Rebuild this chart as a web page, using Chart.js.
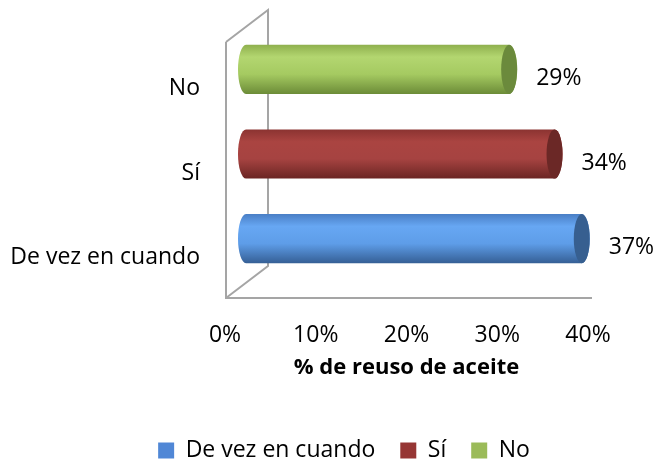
<!DOCTYPE html>
<html>
<head>
<meta charset="utf-8">
<script src="https://cdn.jsdelivr.net/npm/chart.js@4"></script>
<style>
  body { margin: 0; background: #fff; }
  #marco { width: 657px; height: 460px; overflow: hidden; }
  #lienzo { position: relative; width: 657px; height: 472px; }
</style>
</head>
<body>
<div id="marco"><div id="lienzo"><canvas id="graficoReuso"></canvas></div></div>
<script>
const categorias = ["De vez en cuando", "Sí", "No"];
const porcentajes = [37, 34, 29];
const marcasEje = [0, 10, 20, 30, 40];
const tituloEje = "% de reuso de aceite";

const coloresLeyenda = ["#5087d6", "#963634", "#9bbb59"];
// degradado de cada cilindro: arriba, brillo, centro, abajo, tapa
const coloresCilindro = [
  ["#4a7fc6", "#67a7f3", "#5e9de8", "#355f95", "#375f90"],
  ["#8b3331", "#aa4441", "#a64341", "#6b2523", "#6b2826"],
  ["#8fb04e", "#b3d670", "#a5ca61", "#6c8c38", "#6b8a3c"],
];

// paredes 3D y cilindros dibujados a partir de las barras de Chart.js
const pluginCilindros = {
  id: "cilindros",
  afterLayout(chart) {
    // la leyenda del original queda centrada un poco a la derecha
    chart.legend.left = 100;
    chart.legend.right = chart.chartArea.right;
  },
  beforeDatasetsDraw(chart) {
    const { ctx, chartArea: ca } = chart;
    const dx = 42, dy = -32;
    ctx.save();
    ctx.strokeStyle = "#a5a5a5";
    ctx.lineWidth = 2;
    ctx.beginPath();
    ctx.moveTo(ca.left + 1, ca.top - 2);
    ctx.lineTo(ca.left + 1, ca.bottom);
    ctx.lineTo(ca.right + 4, ca.bottom);
    ctx.moveTo(ca.left + 1, ca.top - 2);
    ctx.lineTo(ca.left + 1 + dx, ca.top - 2 + dy);
    ctx.lineTo(ca.left + 1 + dx, ca.bottom + dy);
    ctx.lineTo(ca.left + 1, ca.bottom);
    ctx.stroke();
    ctx.restore();
  },
  afterDatasetsDraw(chart) {
    const { ctx } = chart;
    const ox = 21, oy = -17, rx = 8;
    const meta = chart.getDatasetMeta(0);
    ctx.save();
    meta.data.forEach((barra, i) => {
      const { x, y, base, height } = barra.getProps(["x", "y", "base", "height"], true);
      const c = coloresCilindro[i];
      const x0 = base + ox, x1 = x + ox, cy = y + oy, r = height / 2;
      const grad = ctx.createLinearGradient(0, cy - r, 0, cy + r);
      grad.addColorStop(0, c[0]);
      grad.addColorStop(0.25, c[1]);
      grad.addColorStop(0.6, c[2]);
      grad.addColorStop(1, c[3]);
      ctx.beginPath();
      ctx.moveTo(x0, cy - r);
      ctx.lineTo(x1, cy - r);
      ctx.ellipse(x1, cy, rx, r, 0, -Math.PI / 2, Math.PI / 2);
      ctx.lineTo(x0, cy + r);
      ctx.ellipse(x0, cy, rx, r, 0, Math.PI / 2, Math.PI * 1.5);
      ctx.closePath();
      ctx.fillStyle = grad;
      ctx.fill();
      ctx.beginPath();
      ctx.ellipse(x1, cy, rx, r, 0, 0, Math.PI * 2);
      ctx.fillStyle = c[4];
      ctx.fill();

      ctx.fillStyle = "#000";
      ctx.font = "23px 'Open Sans', sans-serif";
      ctx.textAlign = "left";
      ctx.textBaseline = "middle";
      ctx.fillText(porcentajes[i] + "%", x1 + rx + 19, cy + 9);
    });
    ctx.restore();
  },
};

document.addEventListener("DOMContentLoaded", () => {
  Chart.defaults.font.family = "'Open Sans', sans-serif";
  Chart.defaults.font.size = 23;
  Chart.defaults.color = "#000";

  const ctxReuso = document.getElementById("graficoReuso").getContext("2d");
  new Chart(ctxReuso, {
    type: "bar",
    data: {
      labels: categorias,
      datasets: [
        {
          data: porcentajes,
          backgroundColor: "rgba(0,0,0,0)",
          barPercentage: 0.58,
          categoryPercentage: 1,
        },
      ],
    },
    options: {
      indexAxis: "y",
      responsive: true,
      maintainAspectRatio: false,
      animation: false,
      layout: { padding: { top: 44, left: 0, right: 69, bottom: 0 } },
      scales: {
        x: {
          min: 0,
          max: 40,
          grid: { display: false, drawTicks: false },
          border: { display: false },
          afterBuildTicks: (s) => {
            s.ticks = marcasEje.map((v) => ({ value: v }));
          },
          ticks: { padding: 24, callback: (v) => v + "%" },
          title: {
            display: true,
            text: tituloEje,
            font: { size: 22, weight: "bold" },
            padding: { top: 0, bottom: 33 },
          },
          afterFit: (s) => { s.height = 116; },
        },
        y: {
          reverse: true,
          grid: { display: false, drawTicks: false },
          border: { display: false },
          ticks: { padding: 25, labelOffset: 2 },
          afterFit: (s) => { s.width = 225; },
        },
      },
      plugins: {
        tooltip: { enabled: false },
        legend: {
          position: "bottom",
          labels: {
            boxWidth: 16,
            boxHeight: 16,
            padding: 25,
            generateLabels: () =>
              categorias.map((cat, i) => ({
                text: cat,
                fillStyle: coloresLeyenda[i],
                strokeStyle: coloresLeyenda[i],
                lineWidth: 0,
                hidden: false,
                index: i,
              })),
          },
        },
      },
    },
    plugins: [pluginCilindros],
  });
});
</script>
</body>
</html>
